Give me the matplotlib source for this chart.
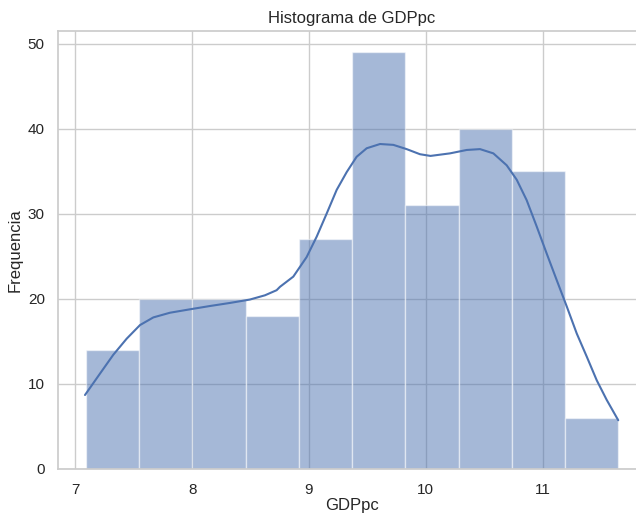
import numpy as np
import matplotlib
matplotlib.use("Agg")
import matplotlib.pyplot as plt
import seaborn as sns

# histogram bins
bin_start = 7.089
bin_width = 0.456
counts = [14, 20, 20, 18, 27, 49, 31, 40, 35, 6]

# kde curve
kde_x = [7.083, 7.212, 7.325, 7.44, 7.554, 7.668, 7.81, 7.98, 8.152, 8.323,
         8.494, 8.623, 8.723, 8.752, 8.866, 8.98, 9.066, 9.151, 9.237, 9.323,
         9.408, 9.494, 9.608, 9.722, 9.836, 9.95, 10.04, 10.207, 10.35, 10.464,
         10.578, 10.692, 10.778, 10.863, 10.949, 11.035, 11.12, 11.206, 11.292,
         11.377, 11.463, 11.548, 11.647]
kde_y = [8.67, 11.2, 13.4, 15.3, 16.9, 17.8, 18.35, 18.75, 19.14, 19.5,
         19.9, 20.4, 21.0, 21.4, 22.6, 24.9, 27.3, 30.0, 32.8, 34.9,
         36.7, 37.7, 38.2, 38.1, 37.6, 37.0, 36.8, 37.1, 37.5, 37.6,
         37.1, 35.7, 34.0, 31.6, 28.5, 25.3, 22.2, 19.1, 15.9,
         13.2, 10.4, 8.1, 5.7]

sns.set_theme(style="whitegrid")
plt.rcParams['font.family'] = ['Liberation Sans', 'DejaVu Sans']
color = "#4c72b0"

fig = plt.figure(figsize=(6.36, 5.13), dpi=100)
ax = fig.add_axes([58 / 636, 44.3 / 513, 587 / 636, 437.3 / 513])

edges = bin_start + bin_width * np.arange(len(counts))
ax.bar(edges, counts, width=bin_width, align="edge", color=color,
       alpha=0.5, edgecolor="white", linewidth=1)
ax.plot(kde_x, kde_y, color=color, linewidth=1.5)

ax.set_xlim(6.852, 11.876)
ax.set_ylim(0, 51.45)
ax.tick_params(axis="x", pad=4)
ax.set_title("Histograma de GDPpc")
ax.set_xlabel("GDPpc", labelpad=1)
ax.set_ylabel("Frequencia")

fig.savefig("out.png", dpi=100)
